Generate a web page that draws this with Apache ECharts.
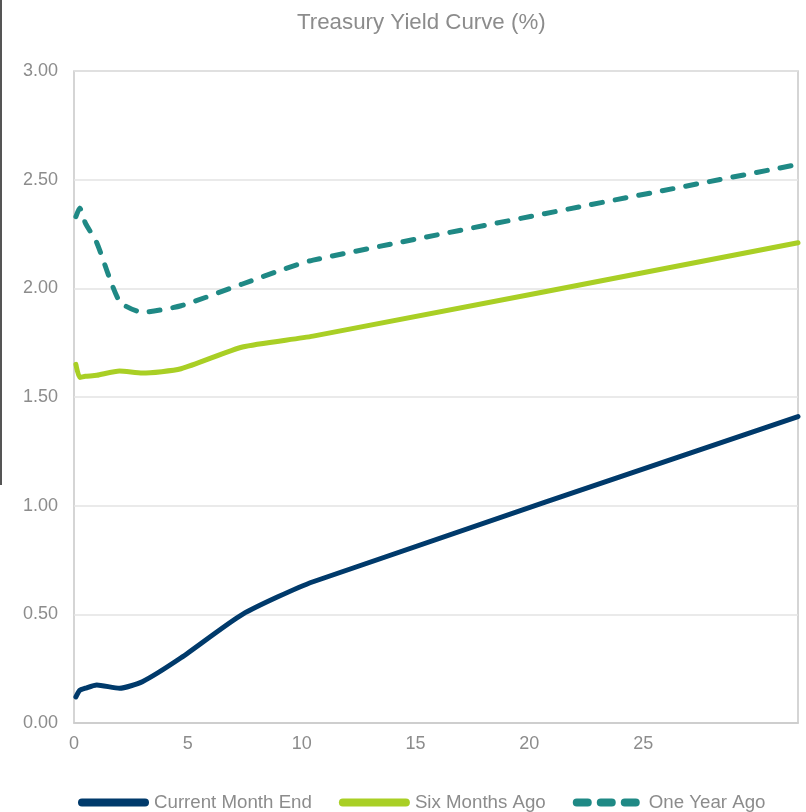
<!DOCTYPE html>
<html>
<head>
<meta charset="utf-8">
<script src="https://cdn.jsdelivr.net/npm/echarts@6/dist/echarts.min.js"></script>
<style>html,body{margin:0;padding:0;background:#fff;}#c{width:806px;height:812px;}</style>
</head>
<body>
<div id="c"></div>
<script>
var maturities = [0.083, 0.25, 0.5, 1, 2, 3, 4.7, 7.4, 10.5, 31.8];
var currentMonthEnd = [0.12, 0.15, 0.16, 0.175, 0.16, 0.19, 0.30, 0.50, 0.65, 1.41];
var sixMonthsAgo = [1.65, 1.59, 1.595, 1.60, 1.62, 1.61, 1.63, 1.73, 1.78, 2.21];
var oneYearAgo = [2.33, 2.37, 2.30, 2.21, 1.94, 1.89, 1.92, 2.02, 2.13, 2.57];
var xTicks = [0, 5, 10, 15, 20, 25];
var seriesNames = ['Current Month End', 'Six Months Ago', 'One Year Ago'];

function pairs(vals) { return maturities.map(function (m, i) { return [m, vals[i]]; }); }
function pill(a, b) {
  return 'M' + (a + 4) + ',0 L' + (b - 4) + ',0 A4,4 0 0 1 ' + (b - 4) + ',8 L' + (a + 4) + ',8 A4,4 0 0 1 ' + (a + 4) + ',0 Z ';
}
var solidIcon = 'path://' + pill(0, 71);
var dashIcon = 'path://' + pill(0, 19) + pill(24, 43) + pill(48, 67) + 'M71,4 L71,4';

var chart = echarts.init(document.getElementById('c'));
var gray = '#8c8c8c';
var colors = ['#003a6b', '#a9cf25', '#1f8985'];
chart.setOption({
  animation: false,
  title: {
    text: 'Treasury Yield Curve (%)',
    left: 292, top: 7,
    textStyle: { fontFamily: 'Liberation Sans', fontSize: 22.3, fontWeight: 'normal', color: gray }
  },
  legend: {
    top: 788, left: 73,
    itemWidth: 71, itemHeight: 8, itemGap: 27,
    textStyle: { fontFamily: 'Liberation Sans', fontSize: 18.7, color: gray },
    data: [
      { name: seriesNames[0], icon: solidIcon },
      { name: seriesNames[1], icon: solidIcon },
      { name: seriesNames[2], icon: dashIcon }
    ]
  },
  grid: { left: 74, right: 8, top: 71, bottom: 89, show: true, borderColor: '#c8c8c8', borderWidth: 1.5 },
  xAxis: {
    type: 'value', min: 0, max: 31.8, interval: 5,
    axisLine: { show: true, lineStyle: { color: '#c8c8c8', width: 1.5 } },
    axisTick: { show: false },
    splitLine: { show: false },
    axisLabel: {
      fontFamily: 'Liberation Sans', fontSize: 18, color: gray, margin: 12,
      formatter: function (v) { return xTicks.indexOf(v) >= 0 ? String(v) : ''; }
    }
  },
  yAxis: {
    type: 'value', min: 0, max: 3, interval: 0.5,
    axisLine: { show: false }, axisTick: { show: false },
    splitLine: { lineStyle: { color: '#e3e3e3', width: 1.5 } },
    axisLabel: {
      fontFamily: 'Liberation Sans', fontSize: 18, color: gray, margin: 16,
      formatter: function (v) { return v.toFixed(2); }
    }
  },
  series: [
    { name: seriesNames[0], type: 'line', data: pairs(currentMonthEnd), smooth: 0.2, symbol: 'none',
      lineStyle: { color: colors[0], width: 5, cap: 'round', join: 'round' }, itemStyle: { color: colors[0] } },
    { name: seriesNames[1], type: 'line', data: pairs(sixMonthsAgo), smooth: 0.2, symbol: 'none',
      lineStyle: { color: colors[1], width: 5, cap: 'round', join: 'round' }, itemStyle: { color: colors[1] } },
    { name: seriesNames[2], type: 'line', data: pairs(oneYearAgo), smooth: 0.2, symbol: 'none',
      lineStyle: { color: colors[2], width: 5, type: [11, 13], cap: 'round', join: 'round' }, itemStyle: { color: colors[2] } }
  ],
  graphic: [
    { type: 'rect', left: 0, top: 0, shape: { width: 2, height: 485 }, style: { fill: '#555' } }
  ]
});
</script>
</body>
</html>
